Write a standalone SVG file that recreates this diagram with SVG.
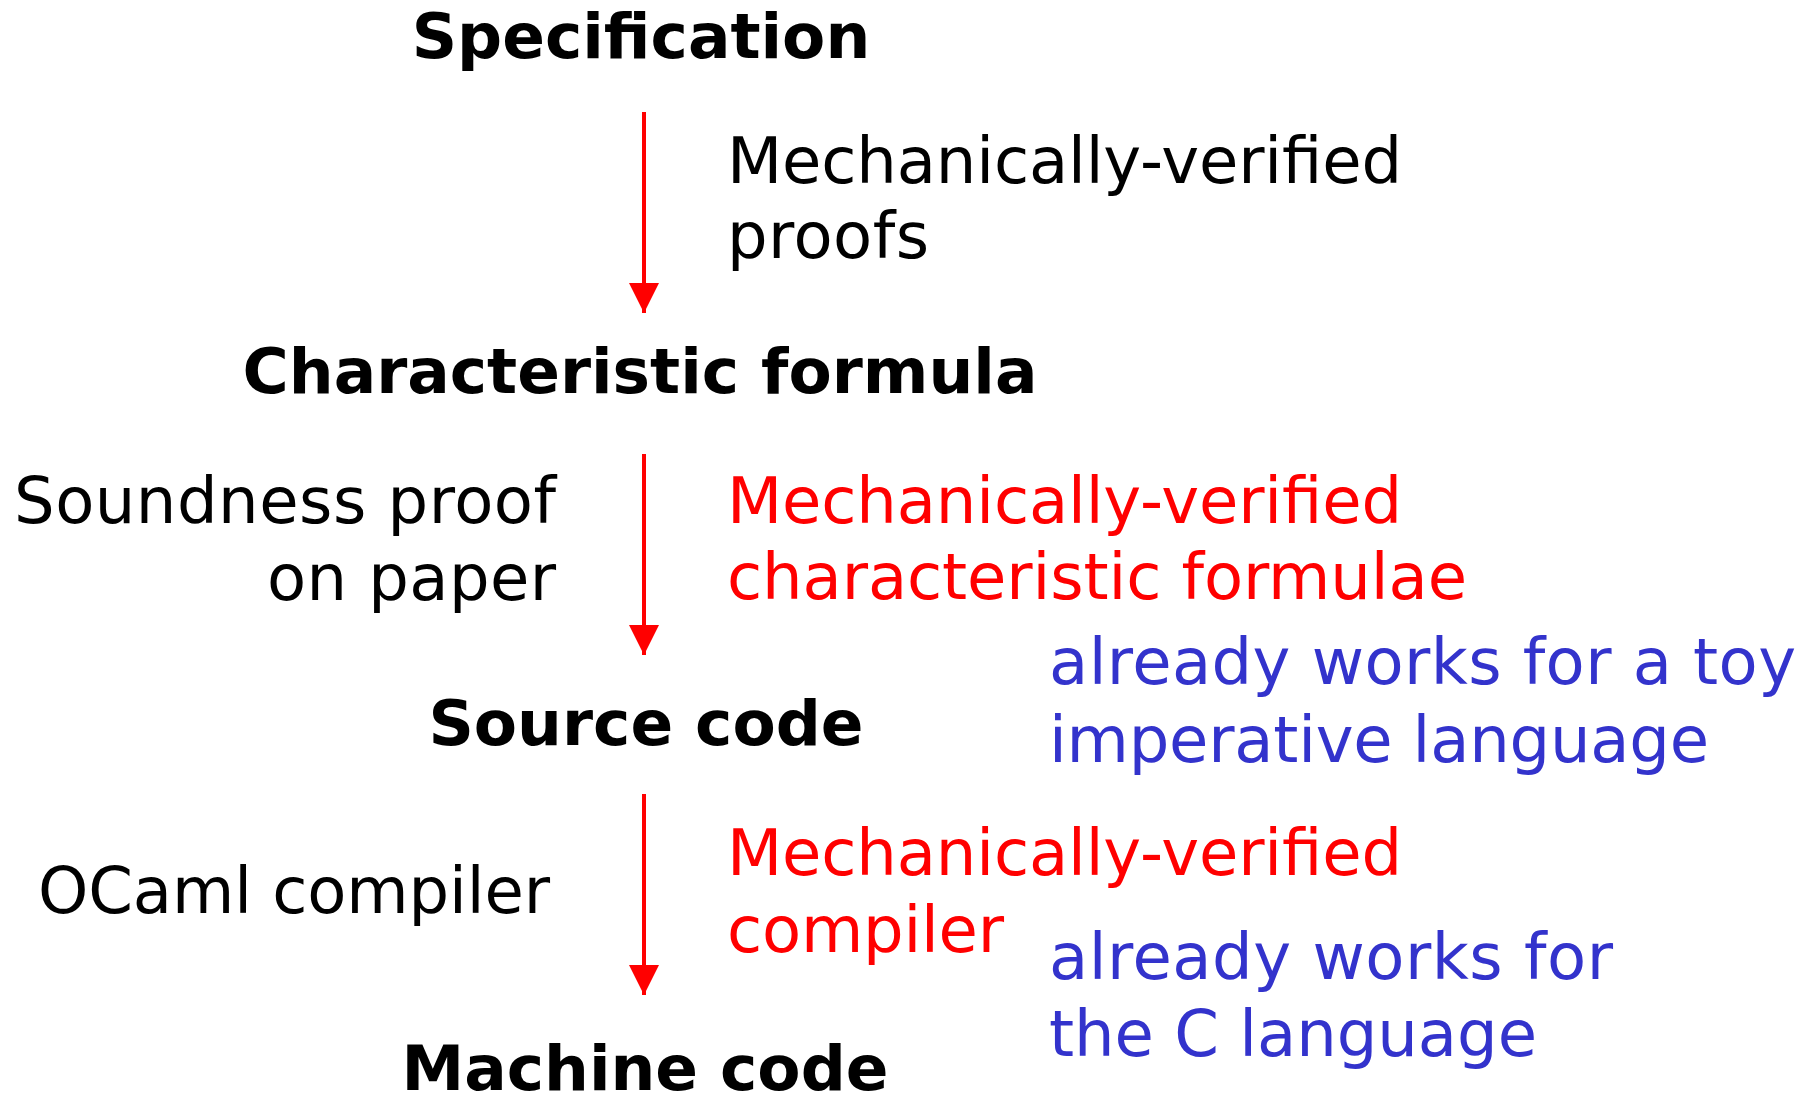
<svg xmlns="http://www.w3.org/2000/svg" width="1820" height="1094" viewBox="0 0 1820 1094">
<style>
text{font-family:"DejaVu Sans","Verdana",sans-serif;font-size:64px}
.b{font-weight:bold;font-size:63px;text-anchor:middle;fill:#000}
.k{fill:#000}
.r{fill:#FF0000}
.u{fill:#3333CC}
.c{stroke:#FF0000;stroke-width:4;fill:none}
</style>
<defs>
<marker id="ah" markerUnits="userSpaceOnUse" markerWidth="32" markerHeight="32" refX="30" refY="15" orient="auto">
<path d="M0,0 L30,15 L0,30 Z" fill="#FF0000"/>
</marker>
</defs>
<g id="n-spec"><text class="b" x="641" y="58">Specification</text></g>
<g id="n-char"><text class="b" x="640" y="393">Characteristic formula</text></g>
<g id="n-src"><text class="b" x="646" y="745">Source code</text></g>
<g id="n-mach"><text class="b" x="645" y="1090">Machine code</text></g>
<g id="connectors">
<line class="c" x1="644" y1="112" x2="644" y2="313" marker-end="url(#ah)"/>
<line class="c" x1="644" y1="454" x2="644" y2="655" marker-end="url(#ah)"/>
<line class="c" x1="644" y1="794" x2="644" y2="995" marker-end="url(#ah)"/>
</g>
<g id="l-proofs"><text class="k" x="727" y="183" textLength="675">Mechanically-verified</text><text class="k" x="727" y="258" textLength="202">proofs</text></g>
<g id="l-sound"><text class="k" x="14" y="523" textLength="542">Soundness proof</text><text class="k" x="267" y="600" textLength="289">on paper</text></g>
<g id="l-mvcf"><text class="r" x="727" y="523" textLength="675">Mechanically-verified</text><text class="r" x="727" y="599" textLength="740">characteristic formulae</text></g>
<g id="l-toy"><text class="u" x="1049" y="684" textLength="747">already works for a toy</text><text class="u" x="1049" y="762" textLength="660">imperative language</text></g>
<g id="l-ocaml"><text class="k" x="38" y="913" textLength="512">OCaml compiler</text></g>
<g id="l-mvc"><text class="r" x="727" y="875" textLength="675">Mechanically-verified</text><text class="r" x="727" y="952" textLength="277">compiler</text></g>
<g id="l-c"><text class="u" x="1049" y="979" textLength="564">already works for</text><text class="u" x="1049" y="1056" textLength="488">the C language</text></g>
</svg>
